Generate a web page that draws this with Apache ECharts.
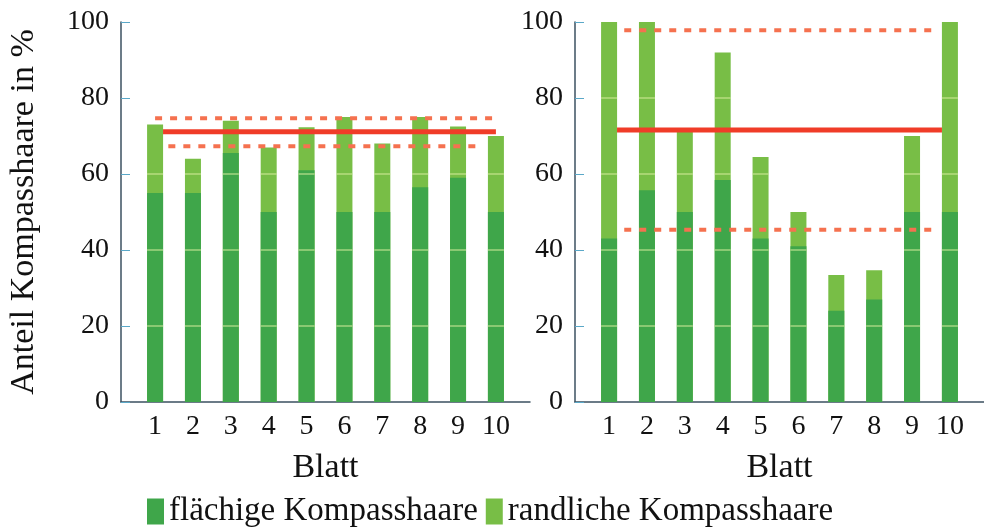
<!DOCTYPE html>
<html>
<head>
<meta charset="utf-8">
<script src="https://cdn.jsdelivr.net/npm/echarts@6/dist/echarts.min.js"></script>
<style>
  html, body { margin: 0; padding: 0; background: #fff; }
  #chart { width: 984px; height: 531px; }
</style>
</head>
<body>
<div id="chart"></div>
<script>
// Blatt numbers (x categories)
const blatt = [1, 2, 3, 4, 5, 6, 7, 8, 9, 10];

// Left panel: share of flat compass hairs and total share (flat + marginal), in %
const leftFlat  = [55, 55, 65.5, 50, 61, 50, 50, 56.5, 59, 50];
const leftTotal = [73, 64, 74, 67, 72.3, 75, 68, 75, 72.5, 70];

// Right panel
const rightFlat  = [43, 55.7, 50, 58.4, 43, 41, 24, 27, 50, 50];
const rightTotal = [100, 100, 71.5, 92, 64.5, 50, 33.4, 34.7, 70, 100];

// Mean and mean ± standard deviation of the totals
const leftMean = 71.1, leftUpper = 74.7, leftLower = 67.3;
const rightMean = 71.6, rightUpper = 97.8, rightLower = 45.3;

// Y ticks
const yTicks = [0, 20, 40, 60, 80, 100];

const FLAT_NAME = 'flächige Kompasshaare';
const EDGE_NAME = 'randliche Kompasshaare';
const DARK = '#3fa64a';
const LIGHT = '#78be46';
const RED = '#f03c28';
const RED_DASH = '#f5714f';
const SERIF = '"Liberation Serif", "DejaVu Serif", serif';
const BAR_W = 16;

const chart = echarts.init(document.getElementById('chart'));

function pairs(values) {
  return blatt.map((b, i) => [b, values[i]]);
}

function xAxisFor(gridIndex) {
  return {
    type: 'value', gridIndex, min: 0.1, max: 10.9,
    name: 'Blatt', nameLocation: 'middle', nameGap: 49,
    nameTextStyle: { fontFamily: SERIF, fontSize: 34, color: '#111' },
    axisLine: { show: true, lineStyle: { color: '#3b5060', width: 1.5 } },
    axisTick: { show: true, inside: true, length: 5, customValues: blatt,
                lineStyle: { color: '#8fa3b0', width: 1 } },
    axisLabel: { customValues: blatt, fontFamily: SERIF, fontSize: 28, color: '#111', margin: 11 },
    splitLine: { show: false }
  };
}

function yAxisFor(gridIndex, withName) {
  const ax = {
    type: 'value', gridIndex, min: 0, max: 100, interval: 20,
    axisLine: { show: true, lineStyle: { color: '#3b5060', width: 1.5 } },
    axisTick: { show: true, inside: true, length: 9, lineStyle: { color: '#5aa8c8', width: 1 } },
    axisLabel: { fontFamily: SERIF, fontSize: 28, color: '#111', margin: 12 },
    splitLine: { show: false }
  };
  if (withName) {
    ax.name = 'Anteil Kompasshaare in %';
    ax.nameLocation = 'middle';
    ax.nameGap = 80;
    ax.nameTextStyle = { fontFamily: SERIF, fontSize: 34, color: '#111' };
  }
  return ax;
}

// Thin pale lines at the major y ticks, visible only inside the bars
function innerGrid(idx, totals) {
  return {
    type: 'custom', xAxisIndex: idx, yAxisIndex: idx, z: 3, silent: true,
    data: pairs(totals),
    renderItem: function (params, api) {
      const x = api.value(0), top = api.value(1);
      const children = [];
      yTicks.forEach(t => {
        if (t > 0 && t < top) {
          const p = api.coord([x, t]);
          children.push({
            type: 'line',
            shape: { x1: p[0] - BAR_W / 2, y1: p[1], x2: p[0] + BAR_W / 2, y2: p[1] },
            style: { stroke: '#d6ec9c', lineWidth: 1 }
          });
        }
      });
      return { type: 'group', children };
    }
  };
}

function refLine(idx, from, to, v, dashed) {
  return {
    type: 'line', xAxisIndex: idx, yAxisIndex: idx, z: 4, silent: true,
    symbol: 'none', data: [[from, v], [to, v]],
    lineStyle: dashed
      ? { color: RED_DASH, width: 4, type: [7, 8] }
      : { color: RED, width: 5 }
  };
}

function panelSeries(idx, flat, total, mean, upper, lower, ext) {
  return [
    {
      name: EDGE_NAME, type: 'bar', xAxisIndex: idx, yAxisIndex: idx,
      barWidth: BAR_W, barGap: '-100%', z: 2,
      itemStyle: { color: LIGHT },
      data: pairs(total)
    },
    {
      name: FLAT_NAME, type: 'bar', xAxisIndex: idx, yAxisIndex: idx,
      barWidth: BAR_W, barGap: '-100%', z: 2,
      itemStyle: { color: DARK },
      data: pairs(flat)
    },
    innerGrid(idx, total),
    refLine(idx, ext.solid[0], ext.solid[1], mean, false),
    refLine(idx, ext.upper[0], ext.upper[1], upper, true),
    refLine(idx, ext.lower[0], ext.lower[1], lower, true)
  ];
}

const option = {
  backgroundColor: '#fff',
  animation: false,
  grid: [
    { left: 121, top: 22, width: 409, height: 380 },
    { left: 575, top: 22, width: 409, height: 380 }
  ],
  xAxis: [xAxisFor(0), xAxisFor(1)],
  yAxis: [yAxisFor(0, true), yAxisFor(1, false)],
  legend: {
    data: [FLAT_NAME, EDGE_NAME],
    left: 142, top: 490,
    icon: 'rect', itemWidth: 17, itemHeight: 26, itemGap: 8,
    textStyle: { fontFamily: SERIF, fontSize: 33, color: '#111' }
  },
  series: [
    ...panelSeries(0, leftFlat, leftTotal, leftMean, leftUpper, leftLower,
      { solid: [1.21, 10], upper: [1.0, 10], lower: [1.35, 9.65] }),
    ...panelSeries(1, rightFlat, rightTotal, rightMean, rightUpper, rightLower,
      { solid: [1.21, 9.79], upper: [1.4, 9.65], lower: [1.4, 9.65] })
  ]
};

chart.setOption(option);
</script>
</body>
</html>
